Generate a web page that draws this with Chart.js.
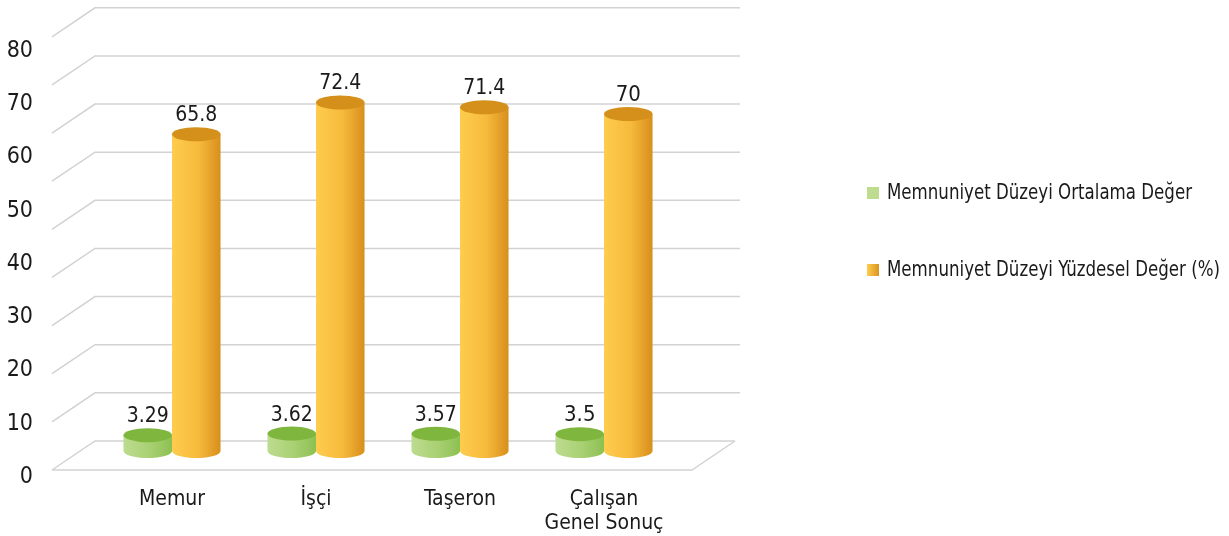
<!DOCTYPE html>
<html>
<head>
<meta charset="utf-8">
<script src="https://cdn.jsdelivr.net/npm/chart.js@4/dist/chart.umd.min.js"></script>
<style>
  body { margin: 0; background: #fff; }
  canvas { display: block; }
</style>
</head>
<body>
<canvas id="myChart" width="1229" height="536"></canvas>
<script>
const categories = ['Memur', 'İşçi', 'Taşeron', ['Çalışan', 'Genel Sonuç']];
const ortalamaValues = [3.29, 3.62, 3.57, 3.5];
const yuzdeselValues = [65.8, 72.4, 71.4, 70];
const seriesNames = ['Memnuniyet Düzeyi Ortalama Değer', 'Memnuniyet Düzeyi Yüzdesel Değer (%)'];
const yTickMax = 80;
const yTickStep = 10;
const gridTop = 90; // back wall goes one step above the last label

const FONT = "'Liberation Sans Narrow', 'DejaVu Sans Condensed', 'Arial Narrow', sans-serif";

// 3d look: depth offset of the back wall, and where the cylinders stand
const DEPTH_X = 43, DEPTH_Y = 29;
const BAR_DEPTH = 0.655;
const SHRINK = 0.904;

function planeY(scale, v, d) {
  const bottom = scale.bottom;
  return bottom - 7 - DEPTH_Y * d - SHRINK * (bottom - scale.getPixelForValue(v));
}

const grid3d = {
  id: 'grid3d',
  beforeDatasetsDraw(chart) {
    const c = chart.ctx;
    const y = chart.scales.y;
    const area = chart.chartArea;
    const fl = area.left - 48, fr = area.right + 16;
    c.save();
    c.strokeStyle = '#d2d2d2';
    c.lineWidth = 1.5;
    for (let v = 0; v <= gridTop; v += yTickStep) {
      const yf = planeY(y, v, 0);
      const yb = planeY(y, v, 1);
      c.beginPath();
      c.moveTo(fl, yf);
      c.lineTo(fl + DEPTH_X, yb);
      c.lineTo(v === 0 ? fr + DEPTH_X : fr + DEPTH_X + 5, yb);
      c.stroke();
    }
    // floor front edge and right side
    const y0f = planeY(y, 0, 0), y0b = planeY(y, 0, 1);
    c.beginPath();
    c.moveTo(fl, y0f);
    c.lineTo(fr, y0f);
    c.lineTo(fr + DEPTH_X, y0b);
    c.stroke();
    c.restore();
  }
};

const palettes = [
  { body: ['#bddc8f', '#a9d072', '#8cc052'], top: '#7fb63e' },
  { body: ['#ffcc4e', '#f6ba3c', '#d88f1c'], top: '#d4901a' }
];

function drawCylinder(c, x, w, topY, baseY, pal) {
  const rx = w / 2, ry = 7;
  const g = c.createLinearGradient(x - rx, 0, x + rx, 0);
  g.addColorStop(0, pal.body[0]);
  g.addColorStop(0.55, pal.body[1]);
  g.addColorStop(1, pal.body[2]);
  c.fillStyle = g;
  c.beginPath();
  c.moveTo(x - rx, topY);
  c.lineTo(x - rx, baseY);
  c.ellipse(x, baseY, rx, ry, 0, Math.PI, 0, true);
  c.lineTo(x + rx, topY);
  c.closePath();
  c.fill();
  c.fillStyle = pal.top;
  c.beginPath();
  c.ellipse(x, topY, rx, ry, 0, 0, Math.PI * 2);
  c.fill();
}

const cylinders = {
  id: 'cylinders',
  afterDatasetsDraw(chart) {
    const c = chart.ctx;
    const y = chart.scales.y;
    const baseY = planeY(y, 0, BAR_DEPTH);
    c.save();
    chart.data.datasets.forEach((ds, di) => {
      chart.getDatasetMeta(di).data.forEach((bar, i) => {
        const v = ds.data[i];
        const topY = planeY(y, v, BAR_DEPTH);
        drawCylinder(c, bar.x, bar.width, topY, baseY, palettes[di]);
        c.fillStyle = '#1a1a1a';
        c.font = '22px ' + FONT;
        c.textAlign = 'center';
        c.textBaseline = 'alphabetic';
        c.fillText(String(v), bar.x, topY - 13, 42);
      });
    });
    c.restore();
  }
};

const legend3d = {
  id: 'legend3d',
  afterDraw(chart) {
    const c = chart.ctx;
    c.save();
    c.font = '22px ' + FONT;
    c.textBaseline = 'middle';
    const rows = [193, 270];
    const widths = [305, 333];
    seriesNames.forEach((name, i) => {
      const pal = palettes[i];
      const g = c.createLinearGradient(867, 0, 880, 0);
      g.addColorStop(0, pal.body[0]);
      g.addColorStop(1, i === 0 ? pal.body[0] : pal.body[2]);
      c.fillStyle = g;
      c.fillRect(867, rows[i] - 6, 12, 12);
      c.fillStyle = '#1a1a1a';
      c.fillText(name, 887, rows[i], widths[i]);
    });
    c.restore();
  }
};

const ctx = document.getElementById('myChart').getContext('2d');

new Chart(ctx, {
  type: 'bar',
  data: {
    labels: categories,
    datasets: [
      { label: seriesNames[0], data: ortalamaValues, backgroundColor: 'rgba(0,0,0,0)' },
      { label: seriesNames[1], data: yuzdeselValues, backgroundColor: 'rgba(0,0,0,0)' }
    ]
  },
  options: {
    responsive: false,
    animation: false,
    categoryPercentage: 0.674,
    barPercentage: 1,
    layout: { padding: { top: 51, right: 553, bottom: 0, left: 0 } },
    plugins: {
      legend: { display: false },
      tooltip: { enabled: false }
    },
    scales: {
      x: {
        grid: { display: false },
        border: { display: false },
        ticks: { color: '#1a1a1a', font: { family: FONT, size: 21, lineHeight: 1.12 }, padding: 3, maxRotation: 0 },
        afterFit(scale) { scale.height = 59; }
      },
      y: {
        min: 0,
        max: yTickMax,
        grid: { display: false, drawTicks: false },
        border: { display: false },
        ticks: { stepSize: yTickStep, color: '#1a1a1a', font: { family: FONT, size: 23 }, padding: 67 },
        afterFit(scale) {
          scale.width = 100;
          // tick padding would otherwise push the plot down from the top
          scale.paddingTop = 0;
          scale.paddingBottom = 0;
        }
      }
    }
  },
  plugins: [grid3d, cylinders, legend3d]
});
</script>
</body>
</html>
